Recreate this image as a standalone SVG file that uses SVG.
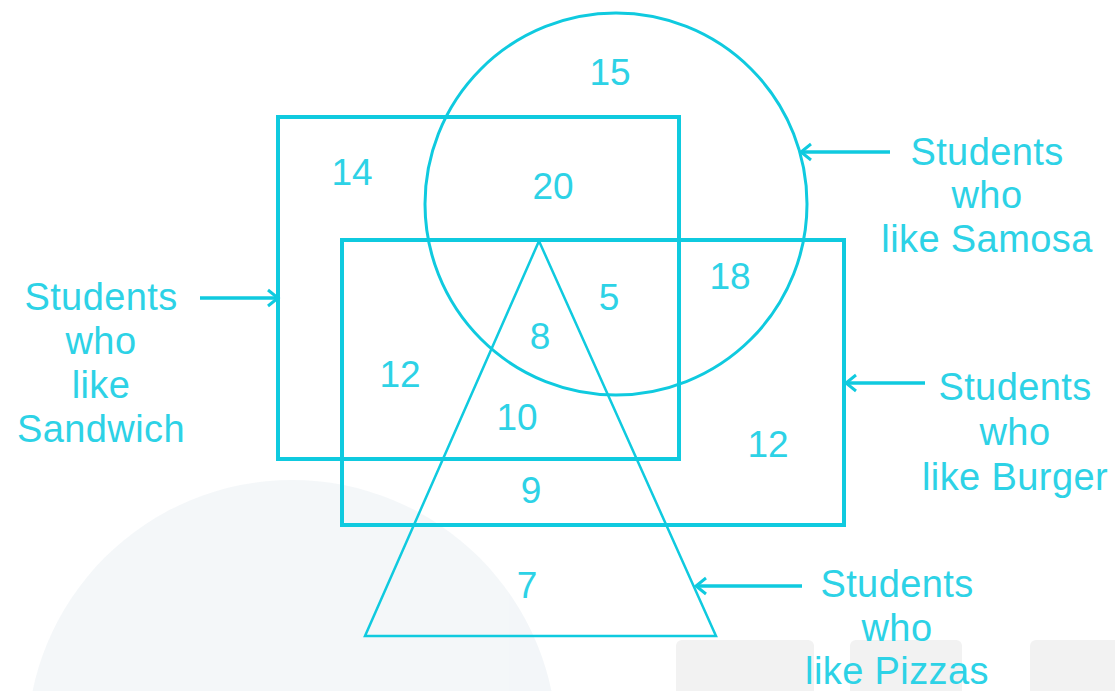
<svg xmlns="http://www.w3.org/2000/svg" width="1115" height="691" viewBox="0 0 1115 691">
<style>
.sh{fill:none;stroke:#0fcadf;}
.r{stroke-width:4;}
.c{stroke-width:3;}
.t{stroke-width:2.5;}
.lbl{font-family:"Liberation Sans",Arial,sans-serif;font-size:38px;letter-spacing:0.4px;fill:#2dd2e6;text-anchor:middle;}
.num{font-family:"Liberation Sans",Arial,sans-serif;font-size:37px;fill:#2dd2e6;text-anchor:middle;}
.ar{fill:none;stroke:#0fcadf;stroke-width:3.5;}
.wm{fill:#f1f5f8;}
</style>
<defs>
<marker id="ah" viewBox="0 0 20 20" refX="17" refY="10" markerWidth="20" markerHeight="20" markerUnits="userSpaceOnUse" orient="auto">
<path d="M7,2 L17,10 L7,18" fill="none" stroke="#0fcadf" stroke-width="3"/>
</marker>
</defs>
<rect width="1115" height="691" fill="#ffffff"/>
<g id="watermark" opacity="0.8">
<circle cx="292" cy="745" r="265" class="wm"/>
<rect x="676" y="640" width="138" height="60" rx="6" fill="#efefef"/>
<rect x="850" y="640" width="112" height="60" rx="6" fill="#efefef"/>
<rect x="1030" y="640" width="90" height="60" rx="6" fill="#efefef"/>
</g>
<g id="sandwich"><rect class="sh r" x="278" y="117" width="401" height="342"/></g>
<g id="burger"><rect class="sh r" x="342" y="240" width="502" height="285"/></g>
<g id="samosa"><circle class="sh c" cx="616" cy="204" r="191"/></g>
<g id="pizza"><polygon class="sh t" points="539,241 365,636 716,636"/></g>
<g id="numbers">
<text class="num" x="610" y="85">15</text>
<text class="num" x="352" y="185">14</text>
<text class="num" x="553" y="199">20</text>
<text class="num" x="730" y="289">18</text>
<text class="num" x="609" y="310">5</text>
<text class="num" x="540" y="349">8</text>
<text class="num" x="400" y="387">12</text>
<text class="num" x="517" y="430">10</text>
<text class="num" x="768" y="457">12</text>
<text class="num" x="531" y="503">9</text>
<text class="num" x="527" y="598">7</text>
</g>
<g id="connectors">
<line class="ar" x1="200" y1="298" x2="278" y2="298" marker-end="url(#ah)"/>
<line class="ar" x1="890" y1="152" x2="801" y2="152" marker-end="url(#ah)"/>
<line class="ar" x1="925" y1="383" x2="846" y2="383" marker-end="url(#ah)"/>
<line class="ar" x1="802" y1="586" x2="696" y2="586" marker-end="url(#ah)"/>
</g>
<g id="label-sandwich">
<text class="lbl" x="101" y="310">Students</text>
<text class="lbl" x="101" y="354">who</text>
<text class="lbl" x="101" y="398">like</text>
<text class="lbl" x="101" y="442">Sandwich</text>
</g>
<g id="label-samosa">
<text class="lbl" x="987" y="165">Students</text>
<text class="lbl" x="987" y="208">who</text>
<text class="lbl" x="987" y="252">like Samosa</text>
</g>
<g id="label-burger">
<text class="lbl" x="1015" y="400">Students</text>
<text class="lbl" x="1015" y="445">who</text>
<text class="lbl" x="1015" y="490">like Burger</text>
</g>
<g id="label-pizza">
<text class="lbl" x="897" y="597">Students</text>
<text class="lbl" x="897" y="641">who</text>
<text class="lbl" x="897" y="684">like Pizzas</text>
</g>
</svg>
